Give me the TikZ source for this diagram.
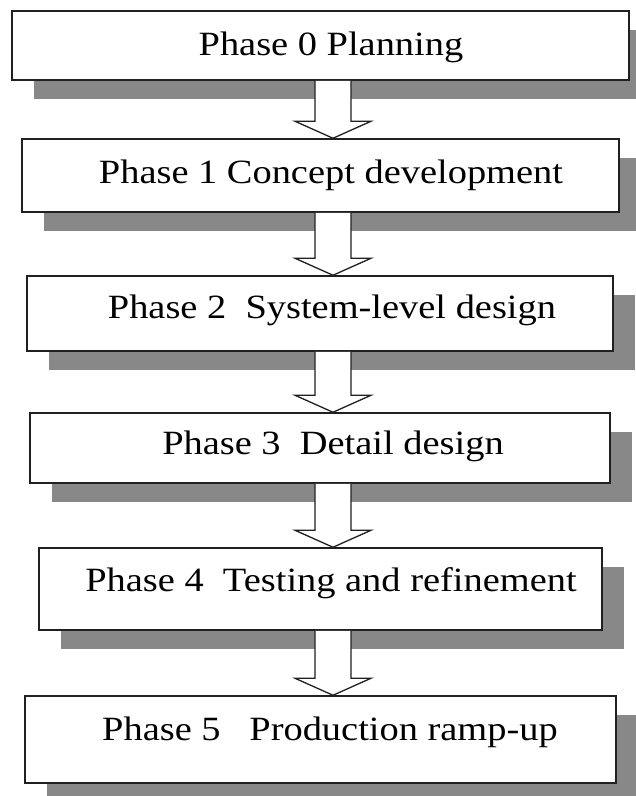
\documentclass[tikz,border=0pt]{standalone}
\usepackage{fontspec}
\setmainfont{Liberation Serif}[FakeStretch=1.13]
\usetikzlibrary{shadows,calc}
\definecolor{shadowgray}{HTML}{888888}
\definecolor{edgecol}{HTML}{202020}
\begin{document}
\begin{tikzpicture}[x=1pt,y=-1pt,
  phasebox/.style={draw=edgecol, line width=1.5pt, fill=white, rectangle, inner sep=0pt,
     drop shadow={shadow xshift=22pt, shadow yshift=-19pt, fill=shadowgray, opacity=1}},
  lbl/.style={anchor=base, inner sep=0pt, font=\fontsize{34}{40}\selectfont},
  blockarrow/.style={draw=edgecol, line width=1.3pt, fill=white, line join=miter}]
\useasboundingbox (0,0) rectangle (636,796);
\clip (0,0) rectangle (636,796);
\coordinate (axis) at (333,0);
\node[phasebox, minimum width=617pt, minimum height=69pt] (b0) at (320.5,45.5) {};
\node[phasebox, minimum width=597pt, minimum height=73pt] (b1) at (320.5,175.5) {};
\node[phasebox, minimum width=586pt, minimum height=75pt] (b2) at (320,313.5) {};
\node[phasebox, minimum width=580pt, minimum height=70pt] (b3) at (320,448) {};
\node[phasebox, minimum width=563pt, minimum height=82pt] (b4) at (320.5,589) {};
\node[phasebox, minimum width=591pt, minimum height=87pt] (b5) at (320.5,739.5) {};
\node[lbl] (t0) at (331,55) {Phase 0 Planning};
\node[lbl] (t1) at (331,183) {Phase 1 Concept development};
\node[lbl] (t2) at (332,318) {Phase 2\ \ System-level design};
\node[lbl] (t3) at (333,454) {Phase 3\ \ Detail design};
\node[lbl] (t4) at (331,591) {Phase 4\ \ Testing and refinement};
\node[lbl] (t5) at (330,740) {Phase 5\ \ \ Production ramp-up};
\foreach \a/\b in {b0/b1,b1/b2,b2/b3,b3/b4,b4/b5}{
  \draw[blockarrow] let \p1=(\a.south -| axis), \p2=(\b.north -| axis) in
    (\x1-18pt,\y1) -- (\x1-18pt,\y2+17pt) -- (\x1-38pt,\y2+17pt) -- (\x1,\y2)
    -- (\x1+38pt,\y2+17pt) -- (\x1+18pt,\y2+17pt) -- (\x1+18pt,\y1);
}
\end{tikzpicture}
\end{document}
